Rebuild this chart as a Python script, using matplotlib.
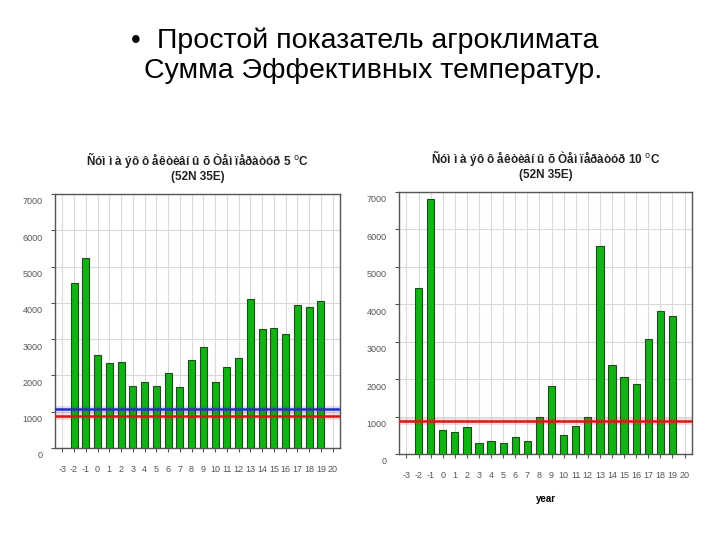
import numpy as np
import matplotlib.pyplot as plt
from matplotlib.transforms import ScaledTranslation

plt.rcParams['font.family'] = ['Liberation Sans', 'DejaVu Sans']
plt.rcParams['axes.unicode_minus'] = False

# x categories (years relative index as printed on the axis)
years = list(range(-2, 20))
xticks = list(range(-3, 21))
yticks = [0, 1000, 2000, 3000, 4000, 5000, 6000, 7000]

# sums of effective temperatures above 5 C
sum5 = [4550, 5240, 2560, 2330, 2370, 1700, 1820, 1700, 2060, 1670, 2420,
        2770, 1820, 2240, 2490, 4110, 3280, 3310, 3140, 3950, 3880, 4060]
sum5_blue = 1080
sum5_red = 890

# sums of effective temperatures above 10 C
sum10 = [4430, 6820, 640, 575, 730, 290, 350, 290, 450, 350, 1000,
         1830, 520, 740, 980, 5570, 2380, 2060, 1880, 3080, 3820, 3700]
sum10_red = 880

title5 = "Ñóì ì à ýô ô åêòèâí û õ Òåì ïåðàòóð 5 $^{\\rm o}$C\n(52N 35E)"
title10 = "Ñóì ì à ýô ô åêòèâí û õ Òåì ïåðàòóð 10 $^{\\rm o}$C\n(52N 35E)"

fig = plt.figure(figsize=(7.2, 5.4), dpi=100)
fig.patch.set_facecolor('white')

# slide heading
fig.text(131 / 720, 1 - 41 / 540, "•", fontsize=20, ha='left', va='center')
fig.text(378 / 720, 1 - 41 / 540, "Простой показатель агроклимата",
         fontsize=20.5, ha='center', va='center')
fig.text(373 / 720, 1 - 71 / 540, "Сумма Эффективных температур.",
         fontsize=20.5, ha='center', va='center')


def draw_panel(rect, values, lines, title, xlabel=None):
    ax = fig.add_axes(rect)
    ax.bar(years, values, width=0.6, color='#12b312', edgecolor='#1d4d1d',
           linewidth=0.8, zorder=3)
    for y, c in lines:
        ax.axhline(y, color=c, linewidth=5, alpha=0.15, zorder=4)
        ax.axhline(y, color=c, linewidth=1.8, zorder=5)
    ax.set_xlim(-3.62, 20.62)
    ax.set_ylim(0, 7000)
    ax.set_xticks(xticks)
    ax.set_yticks(yticks)
    ax.grid(True, color='#dadada', linewidth=0.8, zorder=0)
    for s in ax.spines.values():
        s.set_color('#555555')
        s.set_linewidth(1.0)
    ax.tick_params(axis='both', colors='#555555', labelcolor='#555555',
                   labelsize=6.5, length=3, width=0.8)
    ax.tick_params(axis='x', pad=9)
    ax.tick_params(axis='y', pad=6)
    offset = ScaledTranslation(0, -5 / 72, fig.dpi_scale_trans)
    for lab in ax.get_yticklabels():
        lab.set_transform(lab.get_transform() + offset)
    ax.set_title(title, fontsize=8.5, fontweight='bold', color='#222222',
                 pad=10, linespacing=1.1)
    if xlabel:
        ax.set_xlabel(xlabel, fontsize=7, fontweight='bold', labelpad=10)
    return ax


draw_panel([55 / 720, 1 - 448 / 540, 285 / 720, 254 / 540], sum5,
           [(sum5_blue, '#1f2fc8'), (sum5_red, '#d81818')], title5)
draw_panel([399 / 720, 1 - 454 / 540, 293 / 720, 262 / 540], sum10,
           [(sum10_red, '#d81818')], title10, xlabel="year")

fig.savefig('out.png', dpi=100, facecolor='white')
